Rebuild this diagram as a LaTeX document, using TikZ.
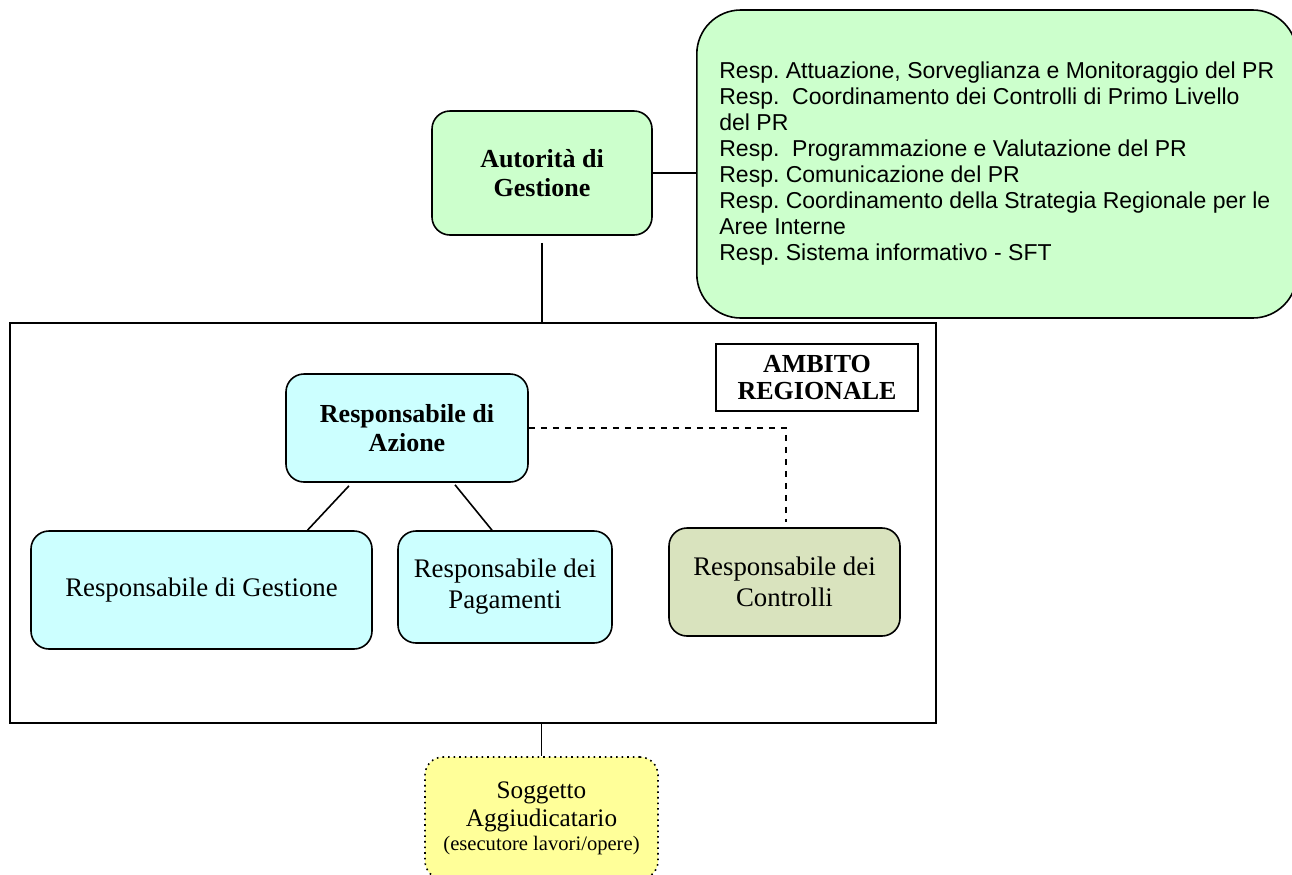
\documentclass[tikz,border=0pt]{standalone}
\usepackage{fontspec}
\setmainfont{Liberation Serif}
\newfontfamily\respfont{Liberation Sans}
\usepackage{xcolor}
\definecolor{agreen}{HTML}{CCFFCC}
\definecolor{acyan}{HTML}{CCFFFF}
\definecolor{aolive}{HTML}{D9E3BE}
\definecolor{ayellow}{HTML}{FFFF99}

\begin{document}
\begin{tikzpicture}[x=0.5pt,y=-0.5pt]
\tikzset{
    agbox/.style={%
        draw=black, line width=0.8pt,
        rectangle,
        rounded corners=9pt,
        fill=agreen,
        align=center,
        font=\fontsize{13}{14.5}\selectfont\bfseries,
        minimum height=62pt,
        minimum width=110pt
        },
    respbox/.style={%
        draw=black, line width=0.8pt,
        rectangle,
        rounded corners=22pt,
        fill=agreen,
        align=left,
        inner xsep=4pt,
        font=\respfont\fontsize{11.5}{13}\selectfont\frenchspacing,
        minimum height=154pt,
        minimum width=300pt
        },
    azbox/.style={%
        draw=black, line width=0.8pt,
        rectangle,
        rounded corners=9pt,
        fill=acyan,
        align=center,
        font=\fontsize{13.4}{15.5}\selectfont
        },
    ambbox/.style={%
        draw=black, line width=0.9pt,
        rectangle,
        fill=white,
        align=center,
        font=\fontsize{13}{13.5}\selectfont\bfseries,
        minimum height=33.5pt,
        minimum width=101pt
        },
    sogbox/.style={%
        draw=black, line width=0.8pt, dotted,
        rectangle,
        rounded corners=9pt,
        fill=ayellow,
        align=center,
        font=\fontsize{12.6}{14}\selectfont,
        minimum height=61pt,
        minimum width=116.5pt
        },
    link/.style={line width=0.8pt},
}
\useasboundingbox (0,0) rectangle (1292,874);
%%%AUTORITA' E RESPONSABILI
\node[agbox] (ag) at (542,173) {Autorit\`a di\\Gestione};
\node[respbox, anchor=west] (resp) at (696,164) {%
Resp. Attuazione, Sorveglianza e Monitoraggio del PR\\
Resp.\ \ Coordinamento dei Controlli di Primo Livello\\
del PR\\
Resp.\ \ Programmazione e Valutazione del PR\\
Resp. Comunicazione del PR\\
Resp. Coordinamento della Strategia Regionale per le\\
Aree Interne\\
Resp. Sistema informativo - SFT};
%%%AMBITO REGIONALE
\node[draw=black, line width=1pt, minimum width=463pt, minimum height=200pt] (reg) at (473,523) {};
\node[ambbox] (amb) at (817,377.5) {AMBITO\\REGIONALE};
\node[azbox, font=\fontsize{13}{14.5}\selectfont\bfseries, minimum width=121pt, minimum height=54pt] (az) at (407,428) {Responsabile di\\Azione};
\node[azbox, minimum width=170.5pt, minimum height=59pt] (ges) at (201.5,590) {Responsabile di Gestione};
\node[azbox, minimum width=107pt, minimum height=56pt] (pag) at (505,587) {Responsabile dei\\Pagamenti};
\node[azbox, fill=aolive, minimum width=115.5pt, minimum height=54pt] (con) at (784.5,582) {Responsabile dei\\Controlli};
%%%SOGGETTO
\node[sogbox] (sog) at (541.5,818) {Soggetto\\Aggiudicatario\\[-2pt]{\fontsize{10.3}{11}\selectfont(esecutore lavori/opere)}};
%%%COLLEGAMENTI
\draw[link] (ag.east) -- (ag.east -| resp.west);
\draw[link] ([yshift=-3.5pt]ag.south) -- (ag.south |- reg.north);
\draw[link] ([xshift=-29pt,yshift=-1.5pt]az.south) -- ([xshift=53pt]ges.north);
\draw[link] ([xshift=24pt,yshift=-1pt]az.south) -- ([xshift=-6.5pt]pag.north);
\draw[link, dashed] (az.east) -| ([xshift=0.75pt,yshift=2.5pt]con.north);
\draw[link] (sog.north |- reg.south) -- (sog.north);
\end{tikzpicture}
\end{document}
